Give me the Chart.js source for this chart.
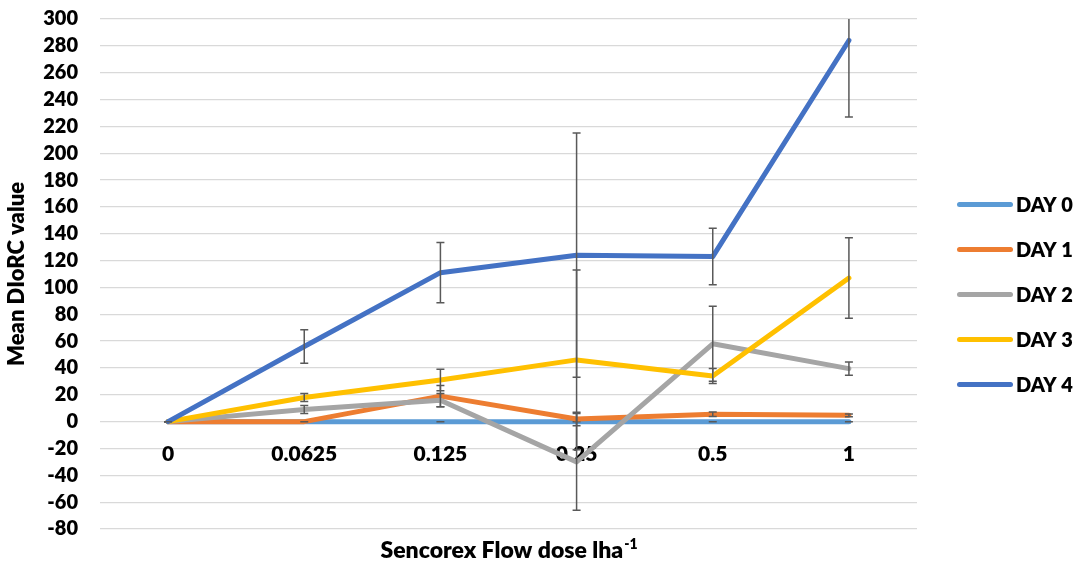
<!DOCTYPE html>
<html>
<head>
<meta charset="utf-8">
<script src="https://cdn.jsdelivr.net/npm/chart.js@4.4.1/dist/chart.umd.min.js"></script>
<style>
  html, body { margin: 0; padding: 0; background: #fff; }
</style>
</head>
<body>
<canvas id="doseChart" width="1080" height="564"></canvas>
<script>
// dose levels (x categories) and series
const doses = ['0', '0.0625', '0.125', '0.25', '0.5', '1'];
const dayNames = ['DAY 0', 'DAY 1', 'DAY 2', 'DAY 3', 'DAY 4'];
const dayColors = ['#5B9BD5', '#ED7D31', '#A5A5A5', '#FFC000', '#4472C4'];

// mean values per day
const day0 = [0, 0, 0, 0, 0, 0];
const day1 = [0, 0, 19, 2, 5.5, 4.7];
const day2 = [0, 9, 16, -30, 58, 39.5];
const day3 = [0, 18, 31, 46, 34, 107];
const day4 = [0, 56, 111, 124, 123, 284];

// error bar half-lengths per day
const day0Err = [0, 0, 0, 0, 0, 0];
const day1Err = [0, 0, 8, 5, 1.7, 1];
const day2Err = [0, 3, 5, 36, 28, 5];
const day3Err = [0, 3, 8, 67, 5.5, 30];
const day4Err = [0, 12.5, 22.5, 91, 21, 57];

const yMin = -80, yMax = 300, yStep = 20;

const dayValues = [day0, day1, day2, day3, day4];
const dayErrors = [day0Err, day1Err, day2Err, day3Err, day4Err];

const W = 800; // text weight
Chart.defaults.font.family = 'Lato, "Open Sans", sans-serif';
Chart.defaults.font.weight = W;
Chart.defaults.color = '#000';

// error bars drawn right after each line so later lines cover them
const errorBars = {
  id: 'errorBars',
  afterDatasetDraw(chart, args) {
    const errs = dayErrors[args.index];
    const vals = chart.data.datasets[args.index].data;
    const y = chart.scales.y;
    const area = chart.chartArea;
    const ctx = chart.ctx;
    ctx.save();
    ctx.beginPath();
    ctx.rect(area.left, area.top, area.right - area.left, area.bottom - area.top);
    ctx.clip();
    ctx.strokeStyle = '#595959';
    ctx.lineWidth = 1.5;
    args.meta.data.forEach((pt, i) => {
      const hi = y.getPixelForValue(vals[i] + errs[i]);
      const lo = y.getPixelForValue(vals[i] - errs[i]);
      ctx.beginPath();
      ctx.moveTo(pt.x, hi); ctx.lineTo(pt.x, lo);
      ctx.moveTo(pt.x - 4, hi); ctx.lineTo(pt.x + 4, hi);
      ctx.moveTo(pt.x - 4, lo); ctx.lineTo(pt.x + 4, lo);
      ctx.stroke();
    });
    ctx.restore();
  }
};

// x title with superscript, and the legend on the right
const extras = {
  id: 'extras',
  afterDraw(chart) {
    const ctx = chart.ctx;
    const area = chart.chartArea;
    ctx.save();
    ctx.fillStyle = '#000';
    ctx.textBaseline = 'alphabetic';
    const main = 'Sencorex Flow dose lha';
    const sup = '-1';
    ctx.font = W + ' 23px Lato';
    const wMain = ctx.measureText(main).width;
    ctx.font = W + ' 14px Lato';
    const wSup = ctx.measureText(sup).width;
    const x0 = (area.left + area.right) / 2 - (wMain + wSup) / 2;
    ctx.font = W + ' 23px Lato';
    ctx.fillText(main, x0, 557.5);
    ctx.font = W + ' 14px Lato';
    ctx.fillText(sup, x0 + wMain + 1, 548.5);

    // legend
    ctx.font = W + ' 20px Lato';
    ctx.textBaseline = 'middle';
    chart.data.datasets.forEach((ds, i) => {
      const cy = 204.5 + i * 45;
      ctx.strokeStyle = ds.borderColor;
      ctx.lineWidth = 5;
      ctx.lineCap = 'round';
      ctx.beginPath();
      ctx.moveTo(959.5, cy);
      ctx.lineTo(1010.5, cy);
      ctx.stroke();
      ctx.fillText(ds.label, 1016, cy + 1);
    });
    ctx.restore();
  }
};

new Chart(document.getElementById('doseChart'), {
  type: 'line',
  data: {
    labels: doses,
    datasets: dayNames.map((name, i) => ({
      label: name,
      data: dayValues[i],
      borderColor: dayColors[i],
      backgroundColor: dayColors[i],
      borderWidth: 5,
      borderCapStyle: 'round',
      borderJoinStyle: 'round',
      pointRadius: 0,
      tension: 0,
      order: dayNames.length - 1 - i
    }))
  },
  options: {
    responsive: false,
    animation: false,
    devicePixelRatio: 1,
    layout: { padding: { left: 0, top: 19, right: 163, bottom: 35 } },
    plugins: {
      legend: { display: false },
      tooltip: { enabled: false }
    },
    scales: {
      x: {
        position: { y: 0 },
        offset: true,
        grid: { display: false, drawTicks: false, offset: true },
        border: { display: false },
        ticks: { font: { size: 21, weight: W }, padding: 20, maxRotation: 0, autoSkip: false }
      },
      y: {
        min: yMin,
        max: yMax,
        afterFit(scale) { scale.width = 100; },
        grid: { color: '#D9D9D9', lineWidth: 1.3, drawTicks: true, tickLength: 19, tickColor: 'rgba(0,0,0,0)' },
        border: { display: false },
        ticks: { stepSize: yStep, autoSkip: false, font: { size: 20, weight: W }, padding: 3 },
        title: {
          display: true,
          text: 'Mean DIoRC value',
          font: { size: 22, weight: W },
          padding: { top: 4, bottom: 0 }
        }
      }
    }
  },
  plugins: [errorBars, extras]
});
</script>
</body>
</html>
